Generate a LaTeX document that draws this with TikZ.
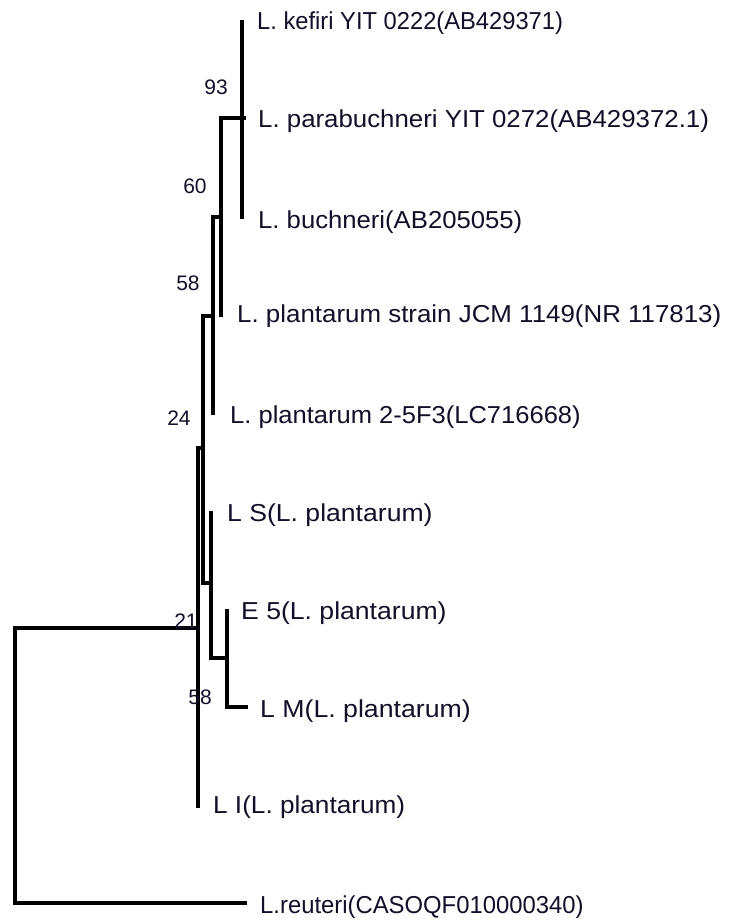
\documentclass[tikz,border=0pt]{standalone}
\usepackage{fontspec}
\usepackage{graphicx}
\setmainfont{Liberation Sans}
\definecolor{inkc}{rgb}{0.08,0.06,0.16}
\tikzset{
  branch/.style={line width=3.2pt, line join=miter},
  taxon/.style={anchor=base west, inner sep=0pt, text=inkc,
    font=\fontsize{24.5}{29}\selectfont},
  boot/.style={anchor=center, inner sep=0pt, text=inkc,
    font=\fontsize{21}{25}\selectfont}
}
% horizontally stretched label text
\newcommand{\wlab}[2]{\scalebox{#1}[1]{#2}}
\begin{document}
\begin{tikzpicture}[x=1pt,y=-1pt]
\useasboundingbox (0,0) rectangle (728,920);
\fill[white] (0,0) rectangle (728,920);

% leaf tips
\coordinate (kef)  at (242,20);
\coordinate (para) at (246,118);
\coordinate (buch) at (242,219);
\coordinate (jcm)  at (221,317);
\coordinate (ff)   at (213,415);
\coordinate (ls)   at (211,511);
\coordinate (e5)   at (227,609);
\coordinate (lm)   at (248,707);
\coordinate (li)   at (198,808);
\coordinate (reu)  at (247,903);

% internal nodes (point where the parent branch joins)
\coordinate (nA) at (242,118);
\coordinate (nB) at (221,217);
\coordinate (nC) at (213,316);
\coordinate (nD) at (203,448);
\coordinate (nE) at (211,583);
\coordinate (nF) at (227,658);
\coordinate (nG) at (198,628);
\coordinate (rt) at (15,765);

% branches
\draw[branch] (nA) |- (kef) (nA) |- (para) (nA) |- (buch);
\draw[branch] (nB) |- (nA) (nB) |- (jcm);
\draw[branch] (nC) |- (nB) (nC) |- (ff);
\draw[branch] (nD) |- (nC) (nD) |- (nE);
\draw[branch] (nE) |- (ls) (nE) |- (nF);
\draw[branch] (nF) |- (e5) (nF) |- (lm);
\draw[branch] (nG) |- (nD) (nG) |- (li);
\draw[branch] (rt) |- (nG) (rt) |- (reu);

% taxon labels
\node[taxon] (tkef)  at (257,30)  {\wlab{0.968}{L. kefiri YIT 0222(AB429371)}};
\node[taxon] (tpara) at (258,128) {\wlab{1.054}{L. parabuchneri YIT 0272(AB429372.1)}};
\node[taxon] (tbuch) at (258,228) {\wlab{1.048}{L. buchneri(AB205055)}};
\node[taxon] (tjcm)  at (237,322) {\wlab{1.057}{L. plantarum strain JCM 1149(NR 117813)}};
\node[taxon] (tff)   at (230,423) {\wlab{1.042}{L. plantarum 2-5F3(LC716668)}};
\node[taxon] (tls)   at (227,521) {\wlab{1.085}{L S(L. plantarum)}};
\node[taxon] (te5)   at (241,619) {\wlab{1.085}{E 5(L. plantarum)}};
\node[taxon] (tlm)   at (260,717) {\wlab{1.089}{L M(L. plantarum)}};
\node[taxon] (tli)   at (213,813) {\wlab{1.068}{L I(L. plantarum)}};
\node[taxon] (treu)  at (260,913) {\wlab{0.973}{L.reuteri(CASOQF010000340)}};

% bootstrap values
\node[boot] (b93) at (216,87)  {93};
\node[boot] (b60) at (195,186) {60};
\node[boot] (b58) at (188,283) {58};
\node[boot] (b24) at (179,418) {24};
\node[boot] (b21) at (186,621) {21};
\node[boot] (b58l) at (200,697) {58};
\end{tikzpicture}
\end{document}
